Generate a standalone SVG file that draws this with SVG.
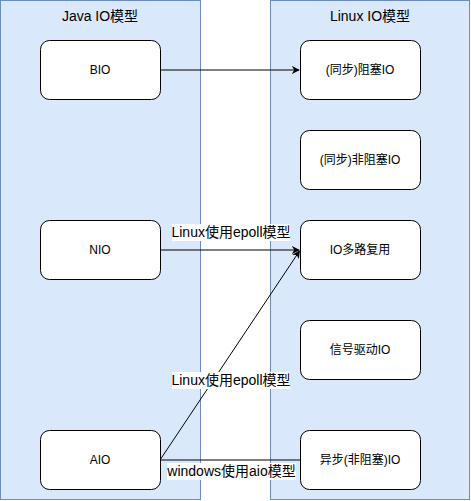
<svg xmlns="http://www.w3.org/2000/svg" width="471" height="501" viewBox="0 0 471 501">
<style>
.panel{fill:#dae8fc;stroke:#6c8ebf;stroke-width:1}
.node{fill:#ffffff;stroke:#000000;stroke-width:1}
.t{font-family:"Liberation Sans","Noto Sans CJK SC",sans-serif;fill:#000;text-anchor:middle;dominant-baseline:central}
.title{font-size:14px}
.nt{font-size:12px}
.el{font-size:14px}
.edge{fill:none;stroke:#000;stroke-width:1}
.lbg{fill:#ffffff}
</style>
<defs>
<marker id="arr" viewBox="0 0 10 10" refX="9" refY="5" markerWidth="8" markerHeight="8" markerUnits="userSpaceOnUse" orient="auto">
<path d="M0,0 L10,5 L0,10 L3,5 Z" fill="#000"/>
</marker>
</defs>
<g id="java-panel">
<rect class="panel" x="0.5" y="0.5" width="200" height="499"/>
<text class="t title" x="100" y="16">Java IO模型</text>
</g>
<g id="linux-panel">
<rect class="panel" x="270.5" y="0.5" width="199" height="499"/>
<text class="t title" x="370" y="16">Linux IO模型</text>
</g>
<g id="connectors">
<path class="edge" d="M160,70 L299,70" marker-end="url(#arr)"/>
<path class="edge" d="M160,250 L299,250" marker-end="url(#arr)"/>
<path class="edge" d="M160,460 L299.5,251" marker-end="url(#arr)"/>
<path class="edge" d="M160,460 L300,460"/>
<rect class="lbg" x="172" y="224" width="118" height="17"/>
<text class="t el" x="231" y="232">Linux使用epoll模型</text>
<rect class="lbg" x="172" y="372" width="118" height="17"/>
<text class="t el" x="231" y="380">Linux使用epoll模型</text>
<rect class="lbg" x="167" y="463" width="129" height="17"/>
<text class="t el" x="231.5" y="471">windows使用aio模型</text>
</g>
<g id="bio"><rect class="node" x="40.5" y="40.5" width="120" height="59" rx="9"/><text class="t nt" x="100" y="70">BIO</text></g>
<g id="nio"><rect class="node" x="40.5" y="220.5" width="120" height="59" rx="9"/><text class="t nt" x="100" y="250">NIO</text></g>
<g id="aio"><rect class="node" x="40.5" y="430.5" width="120" height="59" rx="9"/><text class="t nt" x="100" y="460">AIO</text></g>
<g id="blocking"><rect class="node" x="300.5" y="40.5" width="120" height="59" rx="9"/><text class="t nt" x="360" y="70">(同步)阻塞IO</text></g>
<g id="nonblocking"><rect class="node" x="300.5" y="130.5" width="120" height="59" rx="9"/><text class="t nt" x="360" y="160">(同步)非阻塞IO</text></g>
<g id="multiplex"><rect class="node" x="300.5" y="220.5" width="120" height="59" rx="9"/><text class="t nt" x="360" y="250">IO多路复用</text></g>
<g id="signal"><rect class="node" x="300.5" y="320.5" width="120" height="59" rx="9"/><text class="t nt" x="360" y="350">信号驱动IO</text></g>
<g id="async"><rect class="node" x="300.5" y="430.5" width="120" height="59" rx="9"/><text class="t nt" x="360" y="460">异步(非阻塞)IO</text></g>
</svg>
